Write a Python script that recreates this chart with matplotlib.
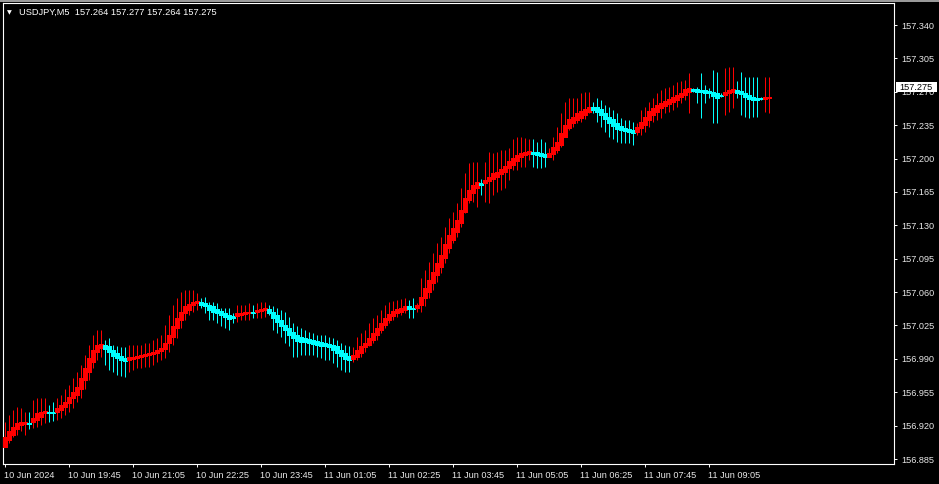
import matplotlib
matplotlib.use('Agg')
import matplotlib.pyplot as plt
from matplotlib.patches import Rectangle
import matplotlib.transforms as mtransforms

plt.rcParams['font.family'] = ['Liberation Sans', 'DejaVu Sans']

title_text = "USDJPY,M5  157.264 157.277 157.264 157.275"
last_price = 157.275
time_labels = ["10 Jun 2024", "10 Jun 19:45", "10 Jun 21:05", "10 Jun 22:25",
               "10 Jun 23:45", "11 Jun 01:05", "11 Jun 02:25", "11 Jun 03:45",
               "11 Jun 05:05", "11 Jun 06:25", "11 Jun 07:45", "11 Jun 09:05"]
price_ticks = [156.885, 156.920, 156.955, 156.990, 157.025, 157.060, 157.095,
               157.130, 157.165, 157.200, 157.235, 157.270, 157.305, 157.340]

ha_open = [
156.898,156.905,156.910,156.916,156.921,156.922,156.923,156.924,156.926,156.929,
156.933,156.934,156.934,156.934,156.936,156.940,156.944,156.949,156.952,156.958,
156.968,156.976,156.987,156.997,157.001,157.005,157.003,156.999,156.996,156.993,
156.991,156.989,156.990,156.991,156.992,156.993,156.994,156.995,156.996,156.998,
157.000,157.007,157.013,157.022,157.031,157.038,157.041,157.047,157.049,157.050,
157.049,157.047,157.045,157.042,157.040,157.038,157.036,157.035,157.035,157.036,
157.037,157.038,157.039,157.039,157.040,157.041,157.042,157.039,157.036,157.031,
157.026,157.022,157.018,157.015,157.013,157.012,157.011,157.010,157.009,157.008,
157.007,157.006,157.005,157.003,156.999,156.996,156.993,156.990,156.992,156.996,
157.002,157.005,157.010,157.015,157.020,157.026,157.031,157.035,157.038,157.039,
157.041,157.045,157.043,157.043,157.047,157.054,157.060,157.070,157.078,157.086,
157.096,157.106,157.115,157.123,157.132,157.144,157.157,157.164,157.169,157.174,
157.174,157.176,157.179,157.181,157.184,157.186,157.190,157.193,157.197,157.202,
157.204,157.205,157.207,157.207,157.206,157.205,157.202,157.205,157.209,157.214,
157.223,157.232,157.237,157.240,157.243,157.246,157.249,157.254,157.254,157.252,
157.248,157.244,157.241,157.237,157.234,157.232,157.231,157.230,157.228,157.232,
157.235,157.240,157.246,157.249,157.253,157.255,157.257,157.259,157.261,157.265,
157.267,157.270,157.273,157.273,157.272,157.272,157.271,157.270,157.269,157.267,
157.267,157.269,157.270,157.272,157.271,157.269,157.267,157.265,157.264,157.264,
157.262,157.264]

ha_close = [
156.908,156.914,156.919,156.923,156.924,156.924,156.922,156.928,156.933,156.934,
156.935,156.933,156.933,156.939,156.942,156.945,156.950,156.955,156.961,156.970,
156.980,156.991,156.999,157.005,157.006,157.000,156.997,156.993,156.991,156.989,
156.988,156.992,156.992,156.993,156.994,156.995,156.996,156.997,156.999,157.001,
157.007,157.015,157.024,157.033,157.039,157.045,157.048,157.050,157.051,157.047,
157.045,157.041,157.039,157.038,157.036,157.034,157.032,157.033,157.038,157.038,
157.039,157.039,157.038,157.041,157.042,157.043,157.038,157.033,157.029,157.024,
157.020,157.015,157.012,157.009,157.008,157.008,157.007,157.006,157.005,157.004,
157.003,157.002,156.999,156.996,156.993,156.990,156.989,156.994,156.999,157.003,
157.007,157.012,157.017,157.022,157.028,157.033,157.037,157.040,157.042,157.043,
157.045,157.042,157.042,157.047,157.055,157.064,157.073,157.081,157.091,157.099,
157.110,157.120,157.127,157.136,157.146,157.159,157.167,157.172,157.175,157.172,
157.178,157.181,157.185,157.186,157.189,157.192,157.197,157.201,157.204,157.206,
157.207,157.208,157.205,157.204,157.203,157.202,157.206,157.212,157.217,157.227,
157.235,157.241,157.244,157.248,157.250,157.252,157.254,157.251,157.249,157.246,
157.241,157.237,157.234,157.231,157.230,157.229,157.228,157.227,157.233,157.238,
157.244,157.250,157.253,157.256,157.258,157.260,157.262,157.265,157.267,157.269,
157.273,157.274,157.271,157.270,157.270,157.269,157.269,157.266,157.264,157.266,
157.270,157.272,157.273,157.269,157.268,157.265,157.262,157.261,157.261,157.262,
157.265,157.265]

ha_high = [
156.924,156.931,156.936,156.940,156.939,156.934,156.934,156.947,156.949,156.949,
156.949,156.942,156.945,156.949,156.952,156.958,156.963,156.970,156.976,156.984,
156.994,157.005,157.015,157.020,157.020,157.010,157.012,157.005,157.003,157.002,
157.002,157.005,157.005,157.005,157.005,157.007,157.007,157.010,157.012,157.015,
157.026,157.036,157.047,157.054,157.060,157.062,157.062,157.062,157.059,157.054,
157.055,157.050,157.050,157.049,157.043,157.043,157.043,157.038,157.047,157.047,
157.047,157.049,157.046,157.049,157.050,157.050,157.047,157.045,157.043,157.041,
157.039,157.034,157.028,157.024,157.022,157.020,157.018,157.017,157.015,157.015,
157.015,157.013,157.012,157.010,157.007,157.005,157.003,157.002,157.013,157.017,
157.020,157.028,157.033,157.036,157.041,157.047,157.050,157.051,157.052,157.053,
157.054,157.052,157.054,157.049,157.075,157.083,157.092,157.101,157.112,157.118,
157.128,157.138,157.144,157.153,157.169,157.185,157.195,157.196,157.196,157.179,
157.196,157.207,157.206,157.207,157.209,157.209,157.211,157.220,157.223,157.223,
157.222,157.220,157.220,157.217,157.220,157.217,157.211,157.223,157.233,157.248,
157.259,157.263,157.264,157.264,157.269,157.270,157.270,157.259,157.264,157.261,
157.256,157.254,157.251,157.248,157.243,157.240,157.240,157.238,157.237,157.251,
157.254,157.259,157.263,157.269,157.272,157.274,157.275,157.277,157.280,157.281,
157.282,157.290,157.274,157.275,157.290,157.277,157.274,157.293,157.291,157.269,
157.295,157.296,157.296,157.281,157.291,157.286,157.285,157.285,157.285,157.265,
157.285,157.285]

ha_low = [
156.898,156.902,156.908,156.910,156.914,156.910,156.916,156.918,156.919,156.921,
156.923,156.924,156.925,156.926,156.928,156.931,156.934,156.939,156.945,156.949,
156.958,156.968,156.980,156.989,156.992,156.984,156.978,156.976,156.973,156.972,
156.971,156.976,156.978,156.980,156.980,156.981,156.981,156.984,156.987,156.989,
156.991,156.997,157.005,157.012,157.022,157.031,157.036,157.039,157.041,157.043,
157.038,157.031,157.031,157.028,157.024,157.022,157.020,157.028,157.029,157.031,
157.031,157.031,157.033,157.033,157.033,157.034,157.036,157.020,157.017,157.013,
157.007,157.003,156.992,156.992,156.994,156.994,156.994,156.994,156.992,156.991,
156.989,156.989,156.986,156.981,156.978,156.976,156.976,156.987,156.989,156.992,
156.997,157.003,157.007,157.010,157.017,157.022,157.028,157.031,157.034,157.036,
157.038,157.033,157.033,157.039,157.039,157.045,157.054,157.062,157.071,157.080,
157.091,157.101,157.112,157.118,157.128,157.143,157.153,157.154,157.149,157.162,
157.154,157.153,157.162,157.165,157.167,157.169,157.178,157.188,157.188,157.191,
157.191,157.199,157.191,157.190,157.190,157.191,157.202,157.199,157.206,157.212,
157.223,157.230,157.233,157.237,157.238,157.242,157.248,157.248,157.238,157.233,
157.228,157.223,157.220,157.217,157.216,157.216,157.216,157.214,157.225,157.225,
157.228,157.233,157.238,157.240,157.243,157.248,157.249,157.251,157.254,157.258,
157.261,157.248,157.270,157.258,157.243,157.258,157.264,157.237,157.237,157.265,
157.246,157.249,157.253,157.264,157.246,157.244,157.243,157.244,157.244,157.261,
157.249,157.248]

UP = '#FF0000'
DOWN = '#00FFFF'

W, H = 939, 484
fig = plt.figure(figsize=(W / 100, H / 100), dpi=100, facecolor='black')
ax = fig.add_axes([3 / W, (H - 464) / H, (894 - 3) / W, (464 - 3) / H])
ax.set_facecolor('black')

n = len(ha_open)
xs = list(range(n))
cols = [UP if c >= o else DOWN for o, c in zip(ha_open, ha_close)]

ax.vlines(xs, ha_low, ha_high, colors=cols, linewidth=0.72, antialiased=True,
          capstyle='butt', zorder=2)
heights = [c - o for o, c in zip(ha_open, ha_close)]
ax.bar(xs, heights, bottom=ha_open, width=1.0, color=cols, edgecolor=cols,
       linewidth=0.5, antialiased=False, zorder=3)

ax.set_xlim(-0.375, 222.375)
ax.set_ylim(156.8798, 157.3631)

ax.set_xticks(list(range(0, n, 16))[:len(time_labels)])
ax.set_xticklabels(time_labels, ha='left')
ax.yaxis.tick_right()
ax.set_yticks(price_ticks)
ax.set_yticklabels([f"{v:.3f}" for v in price_ticks])
ax.tick_params(axis='both', colors='white', length=2.5, width=0.7,
               labelsize=6.6, labelcolor='#E8E8E8')
ax.tick_params(axis='x', pad=2.5)
ax.tick_params(axis='y', pad=3)
for s in ax.spines.values():
    s.set_color('white')
    s.set_linewidth(0.8)

# current price box
trans = mtransforms.blended_transform_factory(ax.transAxes, ax.transData)
x0 = (896 - 3) / (894 - 3)
x1 = (937 - 3) / (894 - 3)
ax.add_patch(Rectangle((x0, last_price - 0.0055), x1 - x0, 0.011, transform=trans,
                       facecolor='white', edgecolor='none', clip_on=False, zorder=10))
ax.text((899 - 3) / (894 - 3), last_price, f"{last_price:.3f}", transform=trans,
        color='black', fontsize=6.6, ha='left', va='center', zorder=11, clip_on=False)

# header
fig.text(9.5 / W, 1 - 12.5 / H, "\u25BC", color='white', fontsize=4.5,
         ha='center', va='center', family='DejaVu Sans')
fig.text(19 / W, 1 - 12.5 / H, title_text, color='white', fontsize=6.7,
         ha='left', va='center')

# window top border
fig.patches.append(Rectangle((0, 1 - 2 / H), 1, 2 / H, transform=fig.transFigure,
                             facecolor='#9a9a9a', edgecolor='none'))

fig.savefig('out.png', dpi=100, facecolor='black')
